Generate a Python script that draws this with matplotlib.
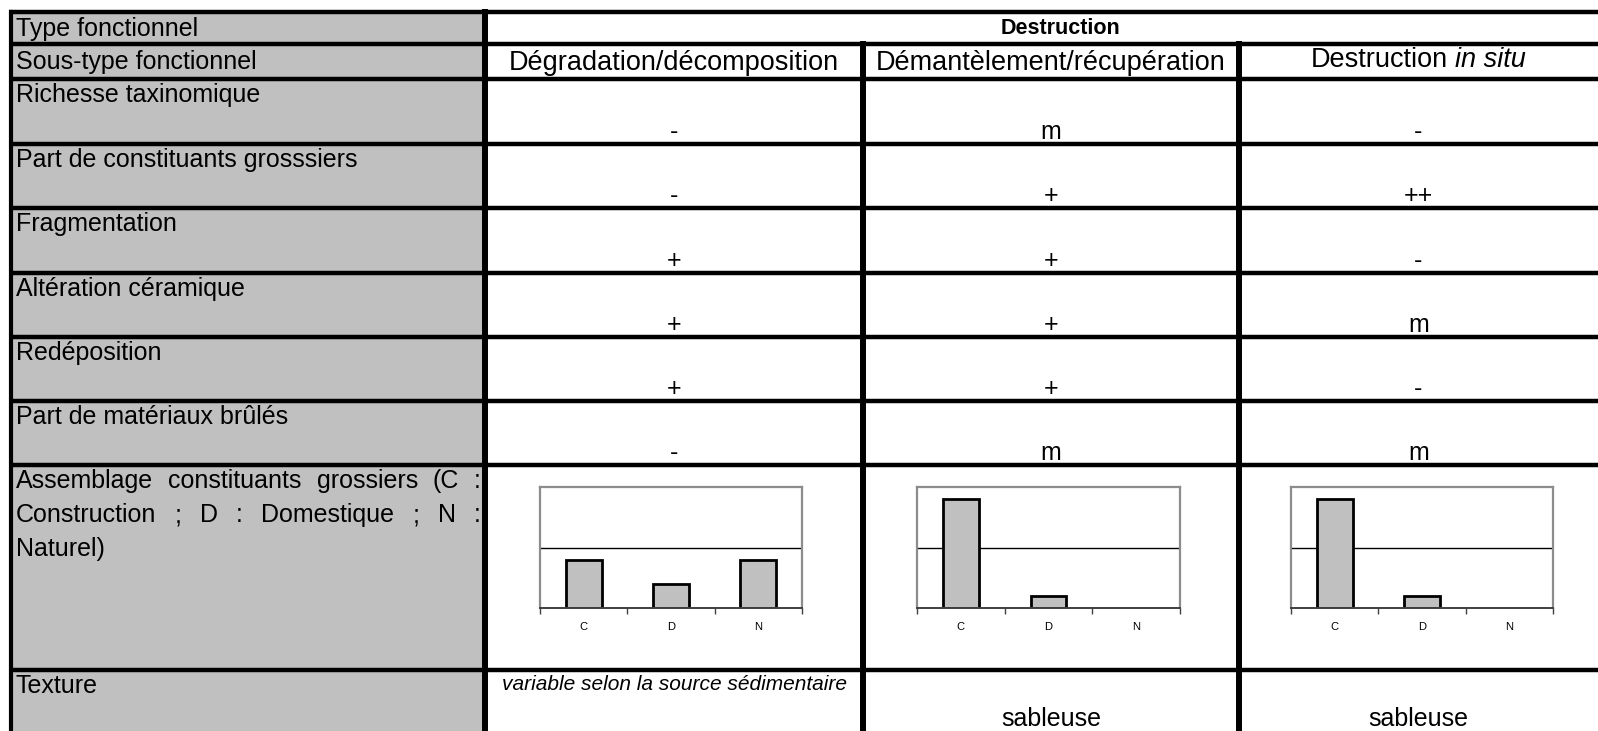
import matplotlib
matplotlib.use('Agg')
import matplotlib.pyplot as plt

plt.rcParams['font.family'] = ['Liberation Sans', 'DejaVu Sans']

W, H = 1598, 731

# table content
type_label = 'Type fonctionnel'
type_value = 'Destruction'
subtype_label = 'Sous-type fonctionnel'
subtypes = ['Dégradation/décomposition', 'Démantèlement/récupération']
subtype_in_situ = ('Destruction', 'in situ')

row_labels = ['Richesse taxinomique', 'Part de constituants grosssiers', 'Fragmentation',
              'Altération céramique', 'Redéposition', 'Part de matériaux brûlés']
degradation = ['-', '-', '+', '+', '+', '-']
demantelement = ['m', '+', '+', '+', '+', 'm']
in_situ = ['-', '++', '-', 'm', '-', 'm']

assemblage_lines = [['Assemblage', 'constituants', 'grossiers', '(C', ':'],
                    ['Construction', ';', 'D', ':', 'Domestique', ';', 'N', ':'],
                    ['Naturel)']]
categories = ['C', 'D', 'N']
assemblage_degradation = [40, 20, 40]
assemblage_demantelement = [90, 10, 0]
assemblage_in_situ = [90, 10, 0]

texture_label = 'Texture'
texture_degradation = 'variable selon la source sédimentaire'
texture_demantelement = 'sableuse'
texture_in_situ = 'sableuse'

# layout (pixels)
col_edges = [11, 485, 863, 1239, W]
row_edges = [12, 44, 79, 144, 208, 273, 337, 401, 465, 670]
FS = 18
FS_SUB = 19.5

fig = plt.figure(figsize=(W / 100, H / 100), dpi=100)
ax = fig.add_axes([0, 0, 1, 1])
ax.set_xlim(0, W)
ax.set_ylim(H, 0)
ax.axis('off')

ax.add_patch(plt.Rectangle((col_edges[0], row_edges[0]), col_edges[1] - col_edges[0],
                           H - row_edges[0], facecolor='#c0c0c0', edgecolor='none'))

for y in row_edges:
    ax.plot([col_edges[0] - 2, W], [y, y], color='black', lw=3.2, solid_capstyle='butt')
ax.plot([col_edges[0], col_edges[0]], [row_edges[0], H], color='black', lw=3.0)
ax.plot([col_edges[1], col_edges[1]], [row_edges[0], H], color='black', lw=4.3)
for x in col_edges[2:4]:
    ax.plot([x, x], [row_edges[1], H], color='black', lw=4.3)

centers = [(col_edges[i] + col_edges[i + 1]) / 2 for i in range(1, 4)]
lx = col_edges[0] + 5

ax.text(lx, (row_edges[0] + row_edges[1]) / 2 + 1, type_label, fontsize=FS, va='center')
ax.text(1060, (row_edges[0] + row_edges[1]) / 2 + 1, type_value, fontsize=15.5,
        fontweight='bold', ha='center', va='center')

ax.text(lx, (row_edges[1] + row_edges[2]) / 2 + 1, subtype_label, fontsize=FS, va='center')
for cx, s in zip(centers, subtypes):
    ax.text(cx, (row_edges[1] + row_edges[2]) / 2 + 1, s, fontsize=FS_SUB, ha='center', va='center')

renderer = fig.canvas.get_renderer()


def width(s, size=FS, **kw):
    t = ax.text(0, 0, s, fontsize=size, **kw)
    w = t.get_window_extent(renderer).width
    t.remove()
    return w


w1 = width(subtype_in_situ[0], FS_SUB)
w2 = width(subtype_in_situ[1], FS_SUB, style='italic')
sp = width('a a', FS_SUB) - width('aa', FS_SUB)
x0 = centers[2] - (w1 + sp + w2) / 2
yb = row_edges[2] - 12
ax.text(x0, yb, subtype_in_situ[0], fontsize=FS_SUB, va='baseline')
ax.text(x0 + w1 + sp, yb, subtype_in_situ[1], fontsize=FS_SUB, style='italic', va='baseline')

for i, lab in enumerate(row_labels):
    top, bot = row_edges[2 + i], row_edges[3 + i]
    ax.text(lx, top + 4, lab, fontsize=FS, va='top')
    for cx, v in zip(centers, [degradation[i], demantelement[i], in_situ[i]]):
        ax.text(cx, bot - 5, v, fontsize=FS, ha='center', va='baseline')

# justified label for the assemblage row
x_left, x_right = lx, col_edges[1] - 4
space = width('a a') - width('aa')
for k, words in enumerate(assemblage_lines):
    y = row_edges[8] + 4 + k * 34
    ws = [width(w) for w in words]
    if k < len(assemblage_lines) - 1:
        gap = (x_right - x_left - sum(ws)) / (len(words) - 1)
    else:
        gap = space
    x = x_left
    for w, wd in zip(words, ws):
        ax.text(x, y, w, fontsize=FS, va='top')
        x += wd + gap

# small bar charts
charts = [(540, 802, assemblage_degradation), (917, 1180, assemblage_demantelement),
          (1291, 1553, assemblage_in_situ)]
top_px, base_px = 487, 608
for left, right, vals in charts:
    bx = fig.add_axes([left / W, 1 - base_px / H, (right - left) / W, (base_px - top_px) / H])
    bx.set_xlim(0, 3)
    bx.set_ylim(0, 100)
    bx.axhline(50, color='black', lw=1.0, zorder=1)
    pos = [i + 0.5 for i, v in enumerate(vals) if v > 0]
    bx.bar(pos, [v for v in vals if v > 0], width=0.41, color='#c0c0c0',
           edgecolor='black', linewidth=2.0, zorder=2)
    for s in ['top', 'left', 'right']:
        bx.spines[s].set_color('#8c8c8c')
        bx.spines[s].set_linewidth(1.6)
    bx.spines['bottom'].set_color('#404040')
    bx.spines['bottom'].set_linewidth(1.4)
    bx.set_yticks([])
    bx.set_xticks([0, 1, 2, 3])
    bx.set_xticklabels([])
    bx.tick_params(axis='x', which='major', length=4, width=1, color='#404040', direction='out')
    bx.set_xticks([0.5, 1.5, 2.5], minor=True)
    bx.set_xticklabels(categories, minor=True, fontsize=8)
    bx.tick_params(axis='x', which='minor', length=0, pad=10)

ax.text(lx, row_edges[9] + 4, texture_label, fontsize=FS, va='top')
ax.text(centers[0], row_edges[9] + 5, texture_degradation, fontsize=15, style='italic',
        ha='center', va='top')
ax.text(centers[1], H - 5, texture_demantelement, fontsize=FS, ha='center', va='baseline')
ax.text(centers[2], H - 5, texture_in_situ, fontsize=FS, ha='center', va='baseline')

fig.savefig('out.png', dpi=100)
